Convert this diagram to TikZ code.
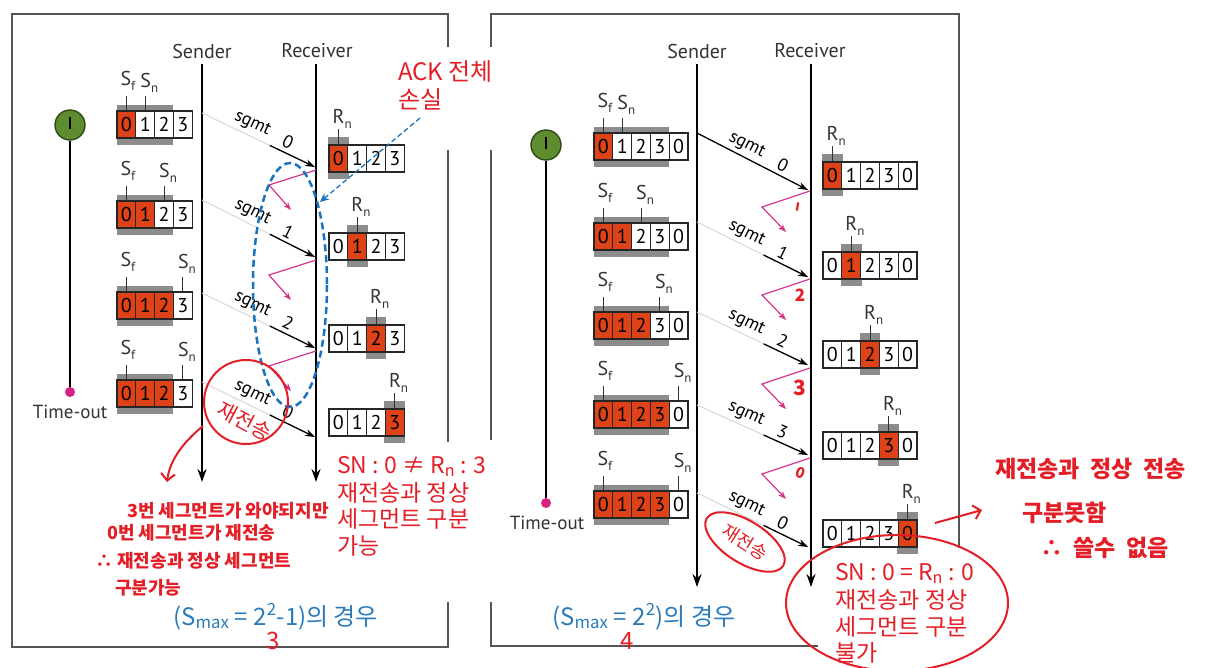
\documentclass[tikz,border=0pt]{standalone}
\usepackage{fontspec}
\setmainfont{PT Sans}
\newfontfamily\kr{Noto Sans CJK KR}
\usetikzlibrary{arrows.meta,calc}
\definecolor{orng}{RGB}{222,66,24}
\definecolor{shgray}{RGB}{140,140,140}
\definecolor{framegray}{RGB}{85,85,85}
\definecolor{penred}{RGB}{228,30,38}
\definecolor{txtblue}{RGB}{43,123,186}
\definecolor{dashblue}{RGB}{25,115,190}
\definecolor{ackpink}{RGB}{214,51,140}
\definecolor{timegreen}{RGB}{94,140,46}
\definecolor{timedark}{RGB}{45,75,20}
\definecolor{timedot}{RGB}{214,33,130}
\definecolor{fadegray}{RGB}{215,215,215}
\newcommand{\fs}[1]{\fontsize{#1}{#1}\selectfont}
\newcommand{\lowsub}[1]{\raisebox{-0.28em}{\fs{13}#1}}
\tikzset{
 cellbox/.style={draw=black!85, line width=1.1pt, minimum width=18.8pt, minimum height=27pt, inner sep=0pt, font=\fs{20}},
 frameline/.style={draw=framegray, line width=1.6pt},
 timeline/.style={line width=2.5pt, -{Stealth[length=13pt,width=9pt]}},
 fadeseg/.style={draw=fadegray, line width=1pt},
 segarrow/.style={line width=1.3pt, -{Stealth[length=10pt,width=7pt]}},
 acklost/.style={draw=ackpink, line width=1.2pt, -{Stealth[length=8pt,width=6pt]}},
 lbl/.style={font=\fs{20}, text=black!80, inner sep=0pt},
 sgmtlbl/.style={font=\fs{18}, inner sep=1pt, sloped, above=3pt},
 redpen/.style={draw=penred, line width=2pt},
 redtxt/.style={font=\kr\fs{23}, text=penred, inner sep=0pt, anchor=base west},
 handtxt/.style={font=\kr\bfseries\fs{18}, text=penred, inner sep=0pt, anchor=base west},
 bigtxt/.style={font=\kr\bfseries\fs{23}, text=penred, inner sep=0pt, anchor=base west},
 bluetxt/.style={font=\kr\fs{24}, text=txtblue, inner sep=0pt, anchor=base west},
 ticks/.style={line width=0.9pt, draw=black!80},
}
% sender window: name, x, y, ncells, norange, snidx
\newcommand{\senderwin}[6]{%
  \pgfmathsetmacro\shw{(#4-1)*18.8}
  \fill[shgray] (#2,#3-6) rectangle ++(\shw,40);
  \pgfmathtruncatemacro\lastc{#4-1}
  \foreach \i in {0,...,\lastc}{
    \pgfmathtruncatemacro\dg{mod(\i,4)}
    \ifnum\i<#5\relax\def\cf{orng}\else\def\cf{white}\fi
    \node[cellbox, fill=\cf] (#1c\i) at ({#2+\i*18.8+9.4},{#3+13.5}) {\dg};
  }
  \node[lbl, anchor=base west] (#1sf) at ({#2+9.4-6},{#3-26}) {S\lowsub{f}};
  \node[lbl, anchor=base west] (#1sn) at ({#2+#6*18.8+9.4-5},{#3-24}) {S\lowsub{n}};
  \draw[ticks] (#1c0.north) -- ++(0,-14);
  \draw[ticks] (#1c#6.north) -- ++(0,-14);
}
% receiver window: name, x, y, ncells, idx
\newcommand{\recvwin}[5]{%
  \fill[shgray] ({#2+#5*18.8-1},{#3-8}) rectangle ++(20.8,42);
  \pgfmathtruncatemacro\lastc{#4-1}
  \foreach \i in {0,...,\lastc}{
    \pgfmathtruncatemacro\dg{mod(\i,4)}
    \ifnum\i=#5\relax\def\cf{orng}\else\def\cf{white}\fi
    \node[cellbox, fill=\cf] (#1c\i) at ({#2+\i*18.8+9.4},{#3+13.5}) {\dg};
  }
  \node[lbl, anchor=base west] (#1rn) at ({#2+#5*18.8+9.4-6},{#3-22}) {R\lowsub{n}};
  \draw[ticks] (#1c#5.north) -- ++(0,-15);
}
\begin{document}
\begin{tikzpicture}[x=1pt,y=-1pt]
\fill[white] (0,0) rectangle (1210,667);
\useasboundingbox (0,0) rectangle (1210,667);

% frames
\draw[frameline] (448,47) -- (448,14) -- (12,14) -- (12,647) -- (448,647) -- (448,602);
\draw[frameline] (448,150) -- (448,442);
\draw[frameline] (491,47) -- (491,14) -- (959,14) -- (959,548);
\draw[frameline] (491,150) -- (491,440);
\draw[frameline] (491,602) -- (491,646) -- (818,646);

% headings
\node[lbl] (lsend) at (202,51) {Sender};
\node[lbl] (lrecv) at (317,51) {Receiver};
\node[lbl] (rsend) at (697,51) {Sender};
\node[lbl] (rrecv) at (810,51) {Receiver};

% time lines
\coordinate (lsT) at (202,64); \coordinate (lsB) at (202,482);
\coordinate (lrT) at (316,64); \coordinate (lrB) at (316,482);
\coordinate (rsT) at (697,64); \coordinate (rsB) at (697,587);
\coordinate (rrT) at (811,64); \coordinate (rrB) at (811,587);
\draw[timeline] (lsT) -- (lsB);
\draw[timeline] (lrT) -- (lrB);
\draw[timeline] (rsT) -- (rsB);
\draw[timeline] (rrT) -- (rrB);

% timers
\node[circle, fill=timegreen, draw=timedark, line width=1.4pt, minimum size=30pt, inner sep=0pt] (ltimer) at (70,125) {};
\node[circle, fill=timedot, minimum size=10pt, inner sep=0pt] (ldot) at (70,392) {};
\draw[line width=2pt] (ltimer) -- (ldot);
\draw[line width=1.6pt] (70,117) -- (70,129);
\node[lbl, font=\fs{19}] (lto) at (70,412) {Time-out};
\node[circle, fill=timegreen, draw=timedark, line width=1.4pt, minimum size=30pt, inner sep=0pt] (rtimer) at (546,145) {};
\node[circle, fill=timedot, minimum size=10pt, inner sep=0pt] (rdot) at (546,503) {};
\draw[line width=2pt] (rtimer) -- (rdot);
\draw[line width=1.6pt] (546,137) -- (546,149);
\node[lbl, font=\fs{19}] (rto) at (547,523) {Time-out};

% sender windows (left)
\senderwin{Ls1}{117}{111}{4}{1}{1}
\senderwin{Ls2}{117}{201}{4}{2}{2}
\senderwin{Ls3}{117}{292}{4}{3}{3}
\senderwin{Ls4}{117}{380}{4}{3}{3}
% receiver windows (left)
\recvwin{Lr1}{329}{145}{4}{0}
\recvwin{Lr2}{329}{233}{4}{1}
\recvwin{Lr3}{329}{325}{4}{2}
\recvwin{Lr4}{329}{409}{4}{3}
% sender windows (right)
\senderwin{Rs1}{594}{133}{5}{1}{1}
\senderwin{Rs2}{594}{223}{5}{2}{2}
\senderwin{Rs3}{594}{312}{5}{3}{3}
\senderwin{Rs4}{594}{401}{5}{4}{4}
\senderwin{Rs5}{594}{491}{5}{4}{4}
% receiver windows (right)
\recvwin{Rr1}{823}{162}{5}{0}
\recvwin{Rr2}{823}{252}{5}{1}
\recvwin{Rr3}{823}{341}{5}{2}
\recvwin{Rr4}{823}{432}{5}{3}
\recvwin{Rr5}{823}{520}{5}{4}

% segments (left)
\foreach \n/\ys/\yr/\lab in {0/113/167/0, 1/200/257/1, 2/293/348/2, 3/382/437/0}{
  \coordinate (LS\n) at (202,\ys);
  \coordinate (LR\n) at (315,\yr);
  \draw[fadeseg] (LS\n) -- (LR\n);
  \draw[segarrow] ($(LS\n)!0.6!(LR\n)$) -- (LR\n);
  \path (LS\n) -- (LR\n) node[sgmtlbl, pos=0.4] {sgmt} node[sgmtlbl, pos=0.72] {\lab};
}
% segments (right)
\coordinate (RS0) at (697,133); \coordinate (RR0) at (808,190);
\draw[segarrow] (RS0) -- (RR0);
\path (RS0) -- (RR0) node[sgmtlbl, pos=0.4] {sgmt} node[sgmtlbl, pos=0.73] {0};
\foreach \n/\ys/\yr/\lab in {1/222/277/1, 2/312/365/2, 3/405/455/3, 4/493/547/0}{
  \coordinate (RS\n) at (697,\ys);
  \coordinate (RR\n) at (808,\yr);
  \draw[fadeseg] (RS\n) -- (RR\n);
  \draw[segarrow] ($(RS\n)!0.6!(RR\n)$) -- (RR\n);
  \path (RS\n) -- (RR\n) node[sgmtlbl, pos=0.4] {sgmt} node[sgmtlbl, pos=0.73] {\lab};
}

% lost ACKs
\foreach \y in {170,260,351}{
  \coordinate (LA\y) at (316,\y);
  \draw[acklost] (LA\y) -- ++(-47,15) -- ++(22,25);
}
\foreach \y in {191,279,368,458}{
  \coordinate (RA\y) at (810,\y);
  \draw[acklost] (RA\y) -- ++(-48,16) -- ++(24,25);
}

% handwritten ACK numbers (right)
\draw[penred, line width=2.2pt, line cap=round] (798,203) -- (797,210);
\node[font=\kr\bfseries\itshape\fs{17}, text=penred, inner sep=0pt] (n2) at (800,295) {2};
\node[font=\kr\bfseries\itshape\fs{21}, text=penred, inner sep=0pt] (n3) at (800,388) {3};
\node[font=\kr\bfseries\fs{15}, text=penred, inner sep=0pt, rotate=-20] (n0) at (801,473) {0};

% blue dashed ellipse and ACK pointer
\draw[dashblue, line width=2.5pt, dash pattern=on 7pt off 4pt] (290,285) ellipse [x radius=37, y radius=122];
\node[redtxt, font=\kr\fs{24}] (ack1) at (398,80) {ACK 전체};
\node[redtxt, font=\kr\fs{24}] (ack2) at (398,108) {손실};
\coordinate (ackfrom) at (420,118);
\coordinate (ackto) at (320,202);
\draw[dashblue, line width=1.3pt, dash pattern=on 5pt off 3pt, -{Stealth[length=9pt,width=8pt]}] (ackfrom) -- (ackto);

% left retransmission circle
\node[circle, redpen, minimum size=84pt, inner sep=0pt] (lcirc) at (246,402) {};
\node[font=\kr\fs{21}, text=penred, rotate=-28, inner sep=0pt] (lre) at (245,421) {재전송};
\coordinate (lcurveEnd) at (167,482);
\draw[redpen, -{Straight Barb[length=7pt,width=14pt]}] (203,426) .. controls (186,440) and (170,458) .. (lcurveEnd);

% left handwritten notes
\node[handtxt] (h1) at (127,517) {3번 세그먼트가 와야되지만};
\node[handtxt] (h2) at (107,539) {0번 세그먼트가 재전송};
\node[handtxt] (h3) at (95,567) {∴ 재전송과 정상 세그먼트};
\node[handtxt] (h4) at (115,594) {구분가능};

% left SN note
\node[redtxt] (lsn1) at (337,473) {SN : 0 ≠ R\textsubscript{n} : 3};
\node[redtxt] (lsn2) at (337,501) {재전송과 정상};
\node[redtxt] (lsn3) at (337,527) {세그먼트 구분};
\node[redtxt] (lsn4) at (337,554) {가능};

% blue captions
\node[bluetxt] (lcap) at (173,625) {(S\textsubscript{max} = 2\textsuperscript{2}-1)의 경우};
\node[bluetxt] (rcap) at (552,625) {(S\textsubscript{max} = 2\textsuperscript{2})의 경우};
\node[font=\kr\fs{24}, text=penred, inner sep=0pt] (l3) at (273,641) {3};
\node[font=\kr\fs{24}, text=penred, inner sep=0pt] (r4) at (627,641) {4};

% right retransmission ellipse
\draw[redpen, rotate around={-32:(745,542)}] (745,542) ellipse [x radius=45, y radius=21];
\node[font=\kr\fs{18}, text=penred, rotate=-32, inner sep=0pt] (rre) at (745,542) {재전송};

% right SN note with big ellipse
\node[redtxt] (rsn1) at (835,580) {SN : 0 = R\textsubscript{n} : 0};
\node[redtxt] (rsn2) at (835,608) {재전송과 정상};
\node[redtxt] (rsn3) at (835,635) {세그먼트 구분};
\node[redtxt] (rsn4) at (835,661) {불가};
\draw[redpen] (897,603) ellipse [x radius=111, y radius=68];

% right handwritten notes
\node[bigtxt] (b1) at (995,477) {재전송과 \ 정상 \ 전송};
\node[bigtxt] (b2) at (1022,521) {구분못함};
\node[bigtxt] (b3) at (1040,556) {∴ \ 쓸수 \ 없음};
\coordinate (rarrS) at (935,523);
\coordinate (rarrE) at (982,510);
\draw[redpen, -{Straight Barb[length=7pt,width=14pt]}] (rarrS) -- (rarrE);
\end{tikzpicture}
\end{document}
